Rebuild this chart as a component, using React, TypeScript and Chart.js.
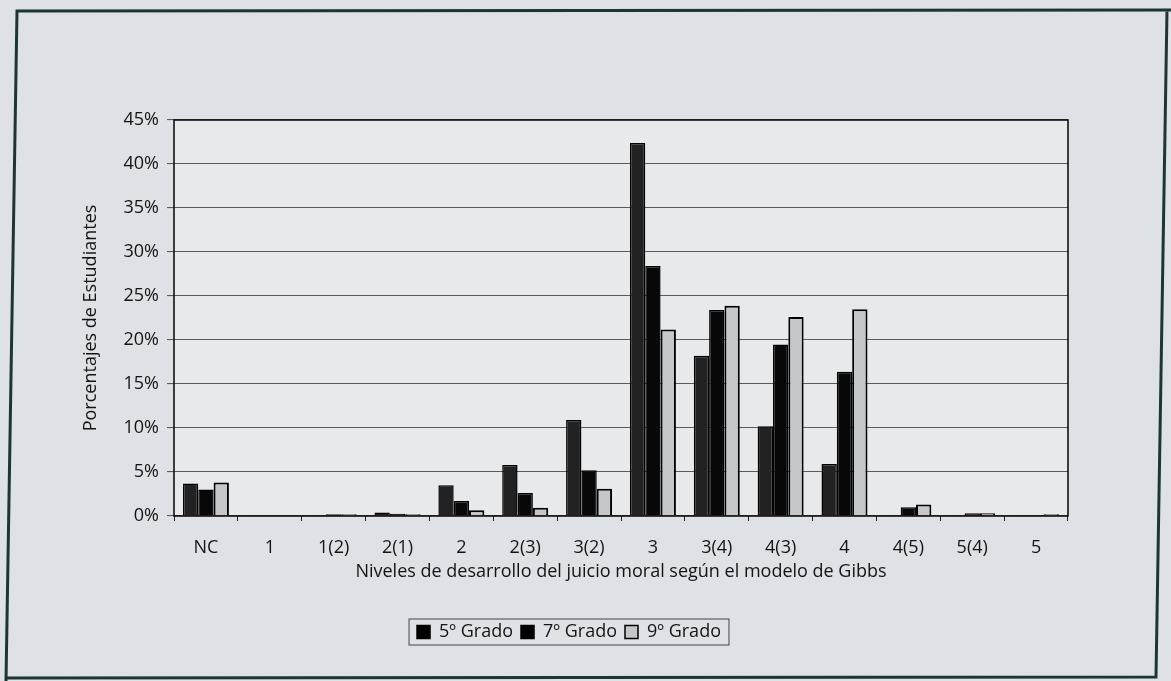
import React, { useEffect, useRef } from "react";
import { Chart, registerables } from "chart.js";

Chart.register(...registerables);

const categories = ["NC", "1", "1(2)", "2(1)", "2", "2(3)", "3(2)", "3", "3(4)", "4(3)", "4", "4(5)", "5(4)", "5"];
const grado5 = [3.7, 0.1, 0.1, 0.4, 3.5, 5.8, 10.9, 42.4, 18.2, 10.2, 5.9, 0.1, 0.1, 0.1];
const grado7 = [3.0, 0.1, 0.2, 0.25, 1.7, 2.6, 5.2, 28.4, 23.4, 19.5, 16.4, 1.0, 0.3, 0.1];
const grado9 = [3.8, 0.1, 0.2, 0.2, 0.65, 0.95, 3.1, 21.2, 23.9, 22.6, 23.5, 1.3, 0.3, 0.2];
const seriesLabels = ["5º Grado", "7º Grado", "9º Grado"];
const yMax = 45;
const yStep = 5;
const yTitle = "Porcentajes de Estudiantes";
const xTitle = "Niveles de desarrollo del juicio moral según el modelo de Gibbs";

const FONT = "'Open Sans', Lato, 'DejaVu Sans', sans-serif";
const TEXT = "#141414";

const decorPlugin = {
  id: "decor",
  beforeDraw(chart: any) {
    const { ctx, chartArea } = chart;
    ctx.save();
    ctx.fillStyle = "#dee1e5";
    ctx.fillRect(0, 0, chart.width, chart.height);
    ctx.fillStyle = "#e8e9eb";
    ctx.fillRect(chartArea.left, chartArea.top, chartArea.right - chartArea.left, chartArea.bottom - chartArea.top);
    ctx.restore();
  },
  afterDraw(chart: any) {
    const { ctx, chartArea } = chart;
    ctx.save();
    ctx.strokeStyle = "#111";
    ctx.lineWidth = 1.6;
    ctx.strokeRect(chartArea.left, chartArea.top, chartArea.right - chartArea.left, chartArea.bottom - chartArea.top);
    const hb = chart.legend && chart.legend.legendHitBoxes;
    if (hb && hb.length) {
      let minX = Infinity, maxX = -Infinity, minY = Infinity, maxY = -Infinity;
      hb.forEach((b: any) => {
        minX = Math.min(minX, b.left);
        maxX = Math.max(maxX, b.left + b.width);
        minY = Math.min(minY, b.top);
        maxY = Math.max(maxY, b.top + b.height);
      });
      ctx.strokeStyle = "#444";
      ctx.lineWidth = 1;
      ctx.strokeRect(minX - 8, minY - 4, maxX - minX + 16, maxY - minY + 8);
    }
    ctx.strokeStyle = "#1d3533";
    ctx.lineWidth = 3;
    ctx.beginPath();
    ctx.moveTo(6, 681);
    ctx.lineTo(17, 11);
    ctx.lineTo(1171, 10);
    ctx.moveTo(6, 678);
    ctx.lineTo(1156, 677);
    ctx.lineTo(1167, 10);
    ctx.stroke();
    ctx.restore();
  },
};

export default function App() {
  const ref = useRef<HTMLCanvasElement | null>(null);

  useEffect(() => {
    if (!ref.current) return;
    const chart = new Chart(ref.current, {
      type: "bar",
      data: {
        labels: categories,
        datasets: [
          { label: seriesLabels[0], data: grado5, backgroundColor: "#222222", borderColor: "#000", borderWidth: 1.5 },
          { label: seriesLabels[1], data: grado7, backgroundColor: "#080808", borderColor: "#000", borderWidth: 1.5 },
          { label: seriesLabels[2], data: grado9, backgroundColor: "#c5c7c9", borderColor: "#000", borderWidth: 2 },
        ],
      },
      options: {
        responsive: false,
        animation: false,
        devicePixelRatio: 1,
        layout: { padding: { left: 70, top: 120, right: 103, bottom: 30 } },
        datasets: { bar: { categoryPercentage: 0.72, barPercentage: 1 } },
        plugins: {
          tooltip: { enabled: false },
          legend: {
            position: "bottom",
            labels: {
              boxWidth: 13,
              boxHeight: 13,
              padding: 8,
              color: TEXT,
              font: { family: FONT, size: 18 },
              generateLabels: (c: any) =>
                c.data.datasets.map((ds: any, i: number) => ({
                  text: ds.label,
                  fillStyle: i === 2 ? "#c5c7c9" : "#000",
                  strokeStyle: "#000",
                  lineWidth: 1.5,
                  hidden: false,
                  datasetIndex: i,
                  fontColor: TEXT,
                })),
            },
          },
        },
        scales: {
          x: {
            afterFit: (s: any) => { s.height = 99; },
            grid: { drawOnChartArea: false, drawTicks: true, tickLength: 5, offset: true, color: "#222" },
            border: { display: false },
            ticks: { color: TEXT, font: { family: FONT, size: 18 }, padding: 16, maxRotation: 0, autoSkip: false },
            title: { display: true, text: xTitle, color: TEXT, font: { family: FONT, size: 18 }, padding: { top: 0, bottom: 32 } },
          },
          y: {
            min: 0,
            max: yMax,
            afterFit: (s: any) => { s.width = 104; },
            grid: { color: "#5a5a5a", lineWidth: 1.1, tickLength: 7, drawTicks: true },
            border: { display: false },
            ticks: {
              stepSize: yStep,
              color: TEXT,
              padding: 8,
              font: { family: FONT, size: 18 },
              callback: (v: any) => v + "%",
            },
            title: { display: true, text: yTitle, color: TEXT, font: { family: FONT, size: 18 }, padding: { top: 10, bottom: 0 } },
          },
        },
      },
      plugins: [decorPlugin],
    });
    return () => chart.destroy();
  }, []);

  return (
    <div style={{ position: "fixed", left: 0, top: 0, width: 1171, height: 681 }}>
      <canvas ref={ref} width={1171} height={681} style={{ width: 1171, height: 681, display: "block" }} />
    </div>
  );
}
